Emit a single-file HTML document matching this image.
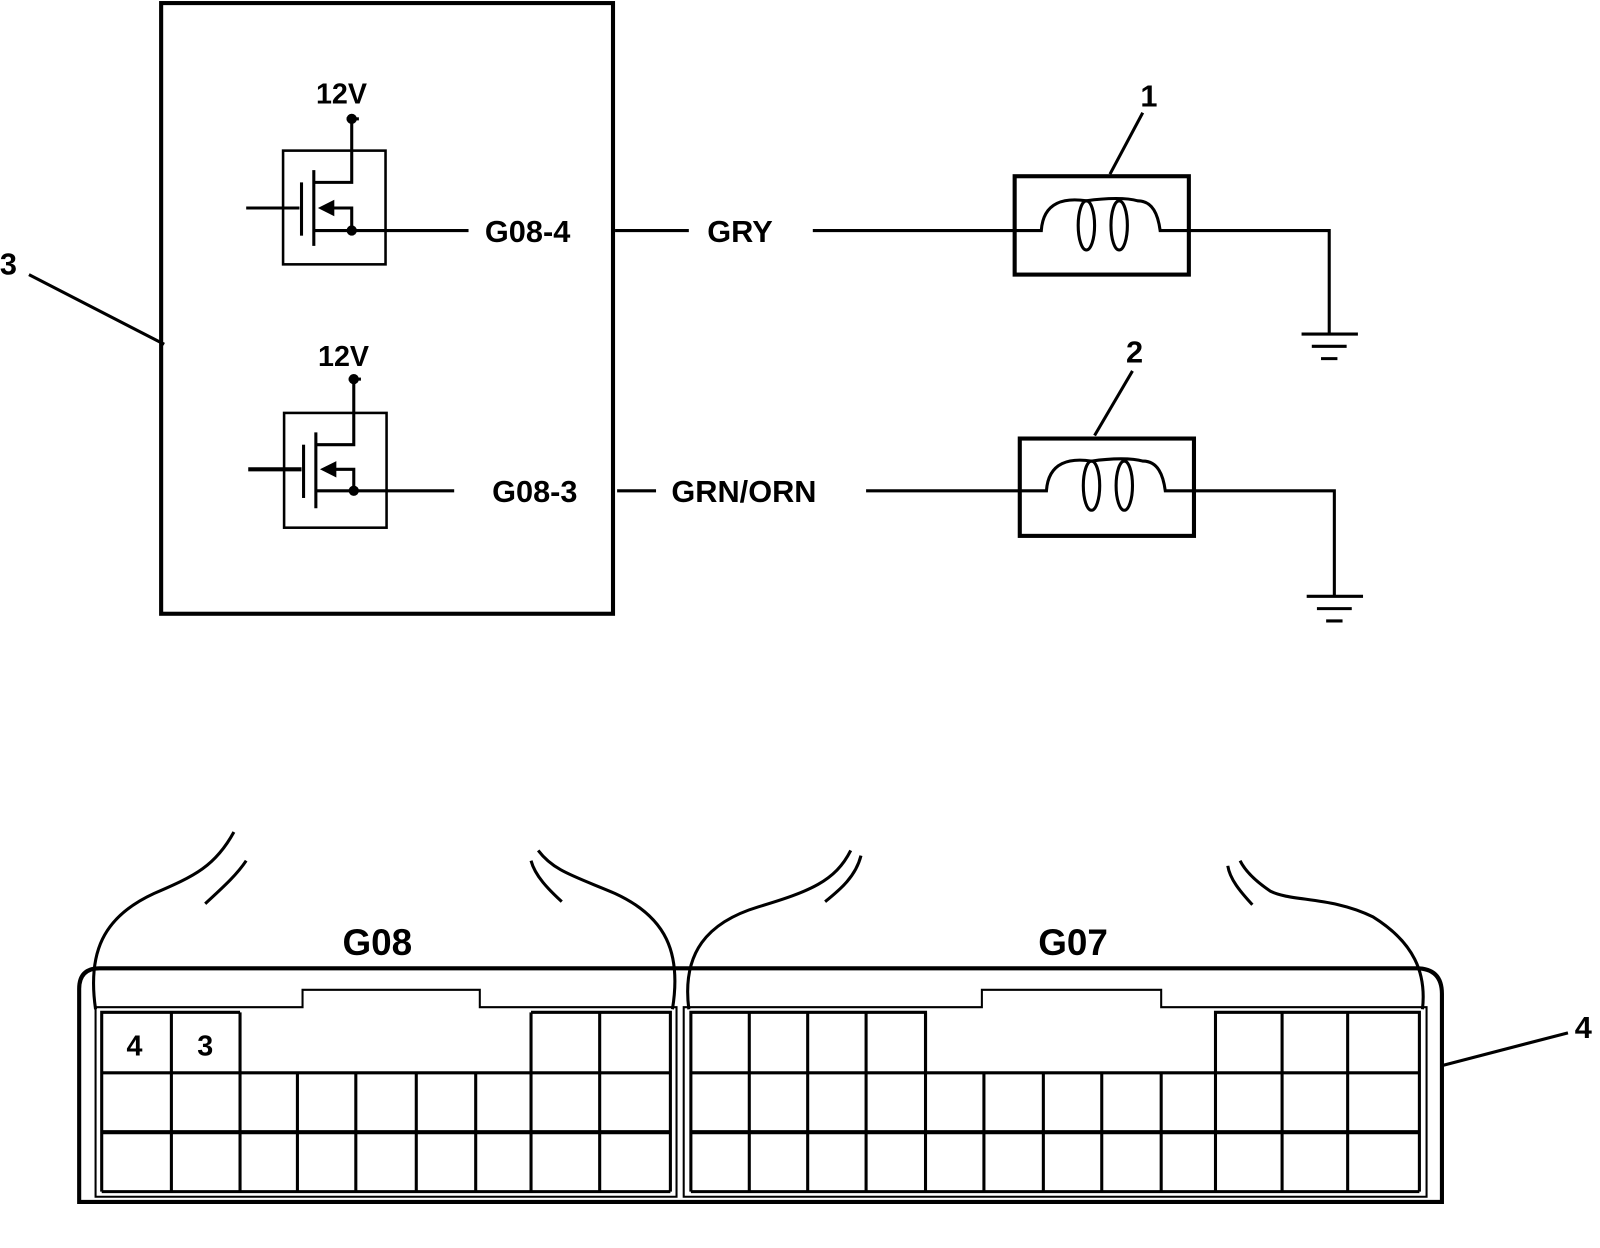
<!DOCTYPE html>
<html><head><meta charset="utf-8"><style>
html,body{margin:0;padding:0;background:#fff;}
svg{display:block;}
text{font-family:"Liberation Sans",sans-serif;fill:#000;font-weight:bold;}
</style></head><body>
<svg width="1600" height="1248" viewBox="0 0 1561 1218" xmlns="http://www.w3.org/2000/svg">
<g fill="none" stroke="#000" stroke-width="3">
<rect x="157" y="3" width="441" height="596" stroke-width="4"/>
<line x1="28" y1="268" x2="160" y2="336"/>
<rect x="276" y="147" width="100" height="111" stroke-width="2.5"/>
<line x1="338" y1="116" x2="350" y2="116"/>
<polyline points="343,116 343,178 306,178"/>
<line x1="240" y1="203" x2="292" y2="203"/>
<line x1="294" y1="178" x2="294" y2="230"/>
<line x1="306" y1="166" x2="306" y2="240"/>
<polyline points="306,225 457,225"/>
<polyline points="343,225 343,203 322,203"/>
<line x1="600" y1="225" x2="672" y2="225"/>
<line x1="793" y1="225" x2="990" y2="225"/>
<rect x="277" y="403" width="100" height="112" stroke-width="2.5"/>
<line x1="340" y1="370" x2="352" y2="370"/>
<polyline points="345,370 345,434 308,434"/>
<line x1="242" y1="458" x2="294" y2="458" stroke-width="4"/>
<line x1="296" y1="434" x2="296" y2="486"/>
<line x1="308" y1="422" x2="308" y2="496"/>
<polyline points="308,479 443,479"/>
<polyline points="345,479 345,458 324,458"/>
<line x1="602" y1="479" x2="640" y2="479"/>
<line x1="845" y1="479" x2="995" y2="479"/>
<rect x="990" y="172" width="170" height="96" stroke-width="4"/>
<path d="M990,225 H1016 C1018,196 1040,193 1060,196 C1080,193 1100,193 1110,196 C1125,196 1130,210 1132,225 H1160"/>
<ellipse cx="1060" cy="220" rx="8" ry="24"/>
<ellipse cx="1092" cy="220" rx="8" ry="24"/>
<polyline points="1160,225 1297,225 1297,326"/>
<line x1="1270" y1="326" x2="1325" y2="326"/>
<line x1="1280" y1="338" x2="1314" y2="338"/>
<line x1="1289" y1="350" x2="1305" y2="350"/>
<line x1="1115" y1="110" x2="1083" y2="170"/>
<rect x="995" y="428" width="170" height="95" stroke-width="4"/>
<path d="M995,479 H1021 C1023,450 1045,447 1065,450 C1085,447 1105,447 1115,450 C1130,450 1135,464 1137,479 H1165"/>
<ellipse cx="1065" cy="474" rx="8" ry="24"/>
<ellipse cx="1097" cy="474" rx="8" ry="24"/>
<polyline points="1165,479 1302,479 1302,582"/>
<line x1="1275" y1="582" x2="1330" y2="582"/>
<line x1="1285" y1="594" x2="1319" y2="594"/>
<line x1="1294" y1="606" x2="1310" y2="606"/>
<line x1="1105" y1="362" x2="1068" y2="425"/>
<path d="M77,1173 V965 Q77,945 97,945 H1382 Q1407,945 1407,970 V1173 Z" stroke-width="4"/>
<line x1="1407" y1="1040" x2="1530" y2="1008"/>
<path d="M93,1168 V983 H295 V966 H468 V983 H660 V1168 Z" stroke-width="2"/>
<path d="M667,1168 V983 H958 V966 H1133 V983 H1392 V1168 Z" stroke-width="2"/>
<path d="M99,1163 V988 H234 M518,988 H654 V1163" stroke-width="3"/>
<line x1="99" y1="1047" x2="654" y2="1047"/>
<line x1="99" y1="1105" x2="654" y2="1105" stroke-width="4"/>
<line x1="99" y1="1163" x2="654" y2="1163"/>
<line x1="167" y1="988" x2="167" y2="1163"/>
<line x1="234" y1="988" x2="234" y2="1163"/>
<line x1="290" y1="1047" x2="290" y2="1163"/>
<line x1="347" y1="1047" x2="347" y2="1163"/>
<line x1="406" y1="1047" x2="406" y2="1163"/>
<line x1="464" y1="1047" x2="464" y2="1163"/>
<line x1="518" y1="988" x2="518" y2="1163"/>
<line x1="585" y1="988" x2="585" y2="1163"/>
<path d="M674,1163 V988 H903 V1047" stroke-width="3"/>
<path d="M1186,1163 V988 H1385 V1163" stroke-width="3"/>
<line x1="674" y1="1047" x2="1385" y2="1047"/>
<line x1="674" y1="1105" x2="1385" y2="1105" stroke-width="4"/>
<line x1="674" y1="1163" x2="1385" y2="1163"/>
<line x1="731" y1="988" x2="731" y2="1163"/>
<line x1="788" y1="988" x2="788" y2="1163"/>
<line x1="845" y1="988" x2="845" y2="1163"/>
<line x1="903" y1="988" x2="903" y2="1163"/>
<line x1="960" y1="1047" x2="960" y2="1163"/>
<line x1="1018" y1="1047" x2="1018" y2="1163"/>
<line x1="1075" y1="1047" x2="1075" y2="1163"/>
<line x1="1133" y1="1047" x2="1133" y2="1163"/>
<line x1="1251" y1="988" x2="1251" y2="1163"/>
<line x1="1315" y1="988" x2="1315" y2="1163"/>
<g stroke-width="3">
<path d="M93,985 C85,930 100,895 150,872 C190,855 210,845 228,812"/>
<path d="M200,882 C215,868 230,855 240,840"/>
<path d="M656,985 C665,930 650,895 600,872 C560,855 540,850 525,830"/>
<path d="M548,880 C535,868 522,855 518,840"/>
<path d="M672,985 C665,930 690,900 740,885 C790,870 815,860 830,830"/>
<path d="M805,880 C820,868 835,855 840,835"/>
<path d="M1388,985 C1392,950 1380,920 1340,895 C1300,875 1260,880 1240,870 C1225,860 1215,850 1210,840"/>
<path d="M1222,883 C1210,870 1200,858 1198,845"/>
</g>
</g>
<g fill="#000">
<circle cx="343" cy="116" r="5"/>
<circle cx="343" cy="225" r="5"/>
<polygon points="310,203 326,195 326,211"/>
<circle cx="345" cy="370" r="5"/>
<circle cx="345" cy="479" r="5"/>
<polygon points="312,458 328,450 328,466"/>
</g>
<g font-size="30">
<text x="8" y="268" text-anchor="middle">3</text>
<text x="333" y="101" text-anchor="middle" font-size="28">12V</text>
<text x="335" y="357" text-anchor="middle" font-size="28">12V</text>
<text x="473" y="236">G08-4</text>
<text x="690" y="236">GRY</text>
<text x="480" y="490">G08-3</text>
<text x="655" y="490">GRN/ORN</text>
<text x="1121" y="104" text-anchor="middle">1</text>
<text x="1107" y="354" text-anchor="middle">2</text>
<text x="1545" y="1013" text-anchor="middle">4</text>
<text x="368" y="932" text-anchor="middle" font-size="36">G08</text>
<text x="1047" y="932" text-anchor="middle" font-size="36">G07</text>
<text x="131" y="1030" text-anchor="middle" font-size="28">4</text>
<text x="200" y="1030" text-anchor="middle" font-size="28">3</text>
</g>
</svg>
</body></html>
